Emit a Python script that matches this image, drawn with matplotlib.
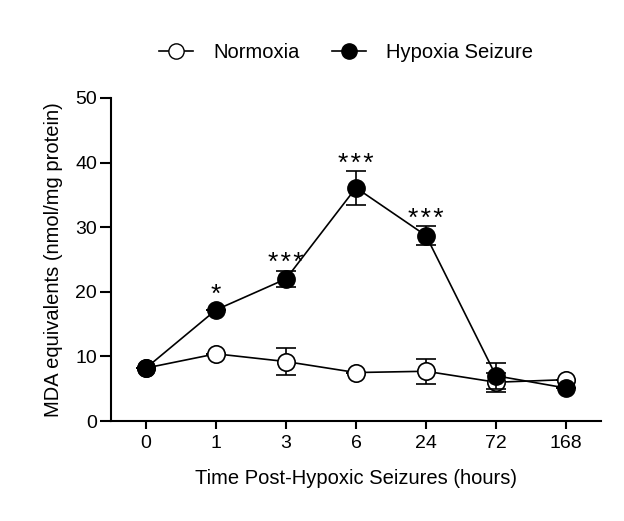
import matplotlib
matplotlib.use("Agg")
import matplotlib.pyplot as plt
from matplotlib.lines import Line2D

plt.rcParams["font.family"] = ["Liberation Sans", "DejaVu Sans"]

# data
time_labels = ["0", "1", "3", "6", "24", "72", "168"]
normoxia = [8.2, 10.4, 9.2, 7.5, 7.7, 6.0, 6.4]
normoxia_err = [0, 0, 2.1, 0, 1.9, 1.5, 0]
hypoxia = [8.2, 17.2, 22.0, 36.1, 28.7, 7.0, 5.1]
hypoxia_err = [0, 0, 1.2, 2.6, 1.5, 2.0, 0]
stars = ["", "*", "***", "***", "***", "", ""]

x = list(range(len(time_labels)))

fig = plt.figure(figsize=(6.24, 5.21), dpi=100)
ax = fig.add_axes([111 / 624, 1 - 421 / 521, 490 / 624, 323 / 521])

ax.errorbar(x, normoxia, yerr=normoxia_err, color="black", lw=1.2,
            marker="o", ms=12.5, mfc="white", mec="black", mew=1.2,
            capsize=7, elinewidth=1.2, capthick=1.2, zorder=2)
ax.errorbar(x, hypoxia, yerr=hypoxia_err, color="black", lw=1.2,
            marker="o", ms=12.5, mfc="black", mec="black",
            capsize=7, elinewidth=1.2, capthick=1.2, zorder=3)

for xi, yi, ei, s in zip(x, hypoxia, hypoxia_err, stars):
    if s:
        top = max(yi + ei, yi + 1.3)
        # hair spaces between the stars, as in the original
        ax.annotate("\u200a".join(s), (xi, top), xytext=(0, 0),
                    textcoords="offset points", ha="center", va="baseline",
                    fontsize=19)

ax.set_xlim(-0.5, 6.5)
ax.set_ylim(0, 50)
ax.set_xticks(x)
ax.set_xticklabels(time_labels)
ax.set_yticks([0, 10, 20, 30, 40, 50])
ax.tick_params(axis="y", labelsize=14, width=1.5, length=8, pad=2)
ax.tick_params(axis="x", labelsize=14, width=1.5, length=6, pad=4)
ax.spines["top"].set_visible(False)
ax.spines["right"].set_visible(False)
ax.spines["left"].set_linewidth(1.5)
ax.spines["bottom"].set_linewidth(1.5)

ax.set_xlabel("Time Post-Hypoxic Seizures (hours)", fontsize=14.5, labelpad=12)
ax.set_ylabel("MDA equivalents (nmol/mg protein)", fontsize=14.5, labelpad=9)

handles = [
    Line2D([], [], color="black", lw=1.2, marker="o", ms=11, mfc="white", mec="black"),
    Line2D([], [], color="black", lw=1.2, marker="o", ms=11, mfc="black", mec="black"),
]
ax.legend(handles, ["Normoxia", "Hypoxia Seizure"], loc="lower center",
          bbox_to_anchor=(0.48, 1.055), ncol=2, frameon=False, fontsize=14.5,
          handlelength=1.7, handletextpad=1.0, columnspacing=1.6)

fig.savefig("out.png", dpi=100)
